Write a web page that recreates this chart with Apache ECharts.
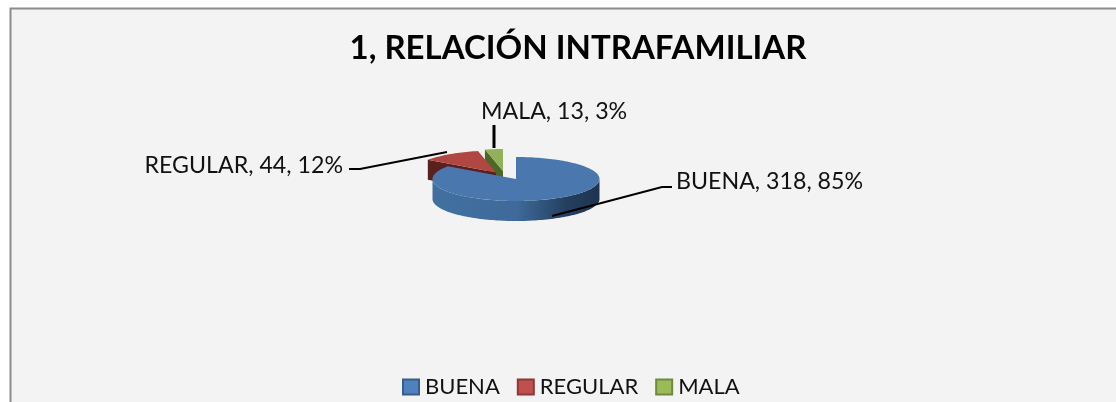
<!DOCTYPE html>
<html><head><meta charset="utf-8">
<style>html,body{margin:0;padding:0;background:#fff}#c{width:1116px;height:402px}</style>
<script src="https://cdn.jsdelivr.net/npm/echarts@6/dist/echarts.min.js"></script>
</head><body><div id="c"></div>
<script>
const titleText = '1, RELACIÓN INTRAFAMILIAR';
const categories = ['BUENA', 'REGULAR', 'MALA'];
const values = [318, 44, 13];

const total = values.reduce((a, b) => a + b, 0);
const FONT = 'Lato';
const pie = { cx: 516, cy: 179, rx: 83.5, ry: 22, depth: 20 };
const styles = [
  { color:'#4f81bd', border:'#385d8a', top:'#4a78ae', wall:'#2c4a70', dx:0, dy:0 },
  { color:'#c0504d', border:'#8c3836', top:'#b04743', wall:'#5a201e', dx:-20, dy:-6.5 },
  { color:'#9bbb59', border:'#71893f', top:'#93b05a', wall:'#4c6727', dx:-13, dy:-8 }
];
const labelLayout = [
  { x:676, y:182, align:'left',  line:[[552,216],[662,187],[672,187]], w:2 },
  { x:343, y:166, align:'right', line:[[447,152],[360,169],[349,169]], w:2 },
  { x:481, y:112, align:'left',  line:[[494,125],[494,148]], w:3 }
];

function startAngle(i){ let s = 0; for (let k = 0; k < i; k++) s += values[k]; return s / total * 2 * Math.PI; }
function pt(i, ang, down){
  const s = styles[i];
  return [pie.cx + s.dx + pie.rx * Math.sin(ang), pie.cy + s.dy - pie.ry * Math.cos(ang) + (down || 0)];
}
function arc(i, a0, a1, down){
  const n = Math.max(2, Math.ceil((a1 - a0) / 0.03)), out = [];
  for (let k = 0; k <= n; k++) out.push(pt(i, a0 + (a1 - a0) * k / n, down));
  return out;
}
function renderSlice(i){
  const s = styles[i], a0 = startAngle(i), a1 = a0 + values[i] / total * 2 * Math.PI;
  const apex = [pie.cx + s.dx, pie.cy + s.dy], kids = [];
  if (i > 0) {
    const o = pt(i, a0);
    kids.push({ type:'polygon', shape:{ points:[o, apex, [apex[0], apex[1] + pie.depth], [o[0], o[1] + pie.depth]] }, style:{ fill:s.wall } });
  }
  const f0 = Math.max(a0, Math.PI / 2), f1 = Math.min(a1, 3 * Math.PI / 2);
  if (f1 > f0) {
    kids.push({ type:'polygon',
      shape:{ points: arc(i, f0, f1).concat(arc(i, f0, f1, pie.depth).reverse()) },
      style:{ fill:{ type:'linear', x:0, y:0, x2:1, y2:0, colorStops:[
        { offset:0, color:'#41709f' }, { offset:0.5, color:'#3f6a9b' },
        { offset:0.8, color:'#24405f' }, { offset:1, color:'#1d3450' } ] } } });
  }
  kids.push({ type:'polygon', shape:{ points:[apex].concat(arc(i, a0, a1)) }, style:{ fill:s.top } });
  return { type:'group', children:kids };
}
function renderLabel(i){
  const L = labelLayout[i];
  const pct = Math.round(values[i] / total * 100);
  return { type:'group', children:[
    { type:'polyline', shape:{ points:L.line }, style:{ stroke:'#000', lineWidth:L.w, fill:null } },
    { type:'text', style:{ x:L.x, y:L.y, text:categories[i] + ', ' + values[i] + ', ' + pct + '%',
        font:'23.2px ' + FONT, fill:'#111', align:L.align, verticalAlign:'middle' } }
  ]};
}

const chart = echarts.init(document.getElementById('c'), null, { renderer:'canvas' });
const series = [2, 1, 0].map(i => ({
  type:'custom', name:categories[i], coordinateSystem:'none', silent:true, animation:false,
  itemStyle:{ color:styles[i].color, borderColor:styles[i].border, borderWidth:1.5 },
  data:[values[i]],
  renderItem:() => renderSlice(i)
}));
series.push({
  type:'custom', name:'labels', coordinateSystem:'none', silent:true, animation:false, z:5,
  data:values,
  renderItem:(p) => renderLabel(p.dataIndex)
});
chart.setOption({
  animation:false,
  backgroundColor:'#ffffff',
  graphic:[{ type:'rect', z:-10, shape:{ x:10.5, y:8.5, width:1120, height:410 },
    style:{ fill:'#f3f3f3', stroke:'#8c8c8c', lineWidth:2 } }],
  title:{ text:titleText, left:573, textAlign:'center', top:27,
    textStyle:{ fontFamily:FONT, fontWeight:'bold', fontSize:33, color:'#000' } },
  legend:{ data:categories, left:402, top:376, padding:0, orient:'horizontal', icon:'rect', itemWidth:16, itemHeight:15, itemGap:17,
    textStyle:{ fontFamily:FONT, fontSize:22, color:'#111', padding:[0,0,0,1] } },
  series
});
</script></body></html>
